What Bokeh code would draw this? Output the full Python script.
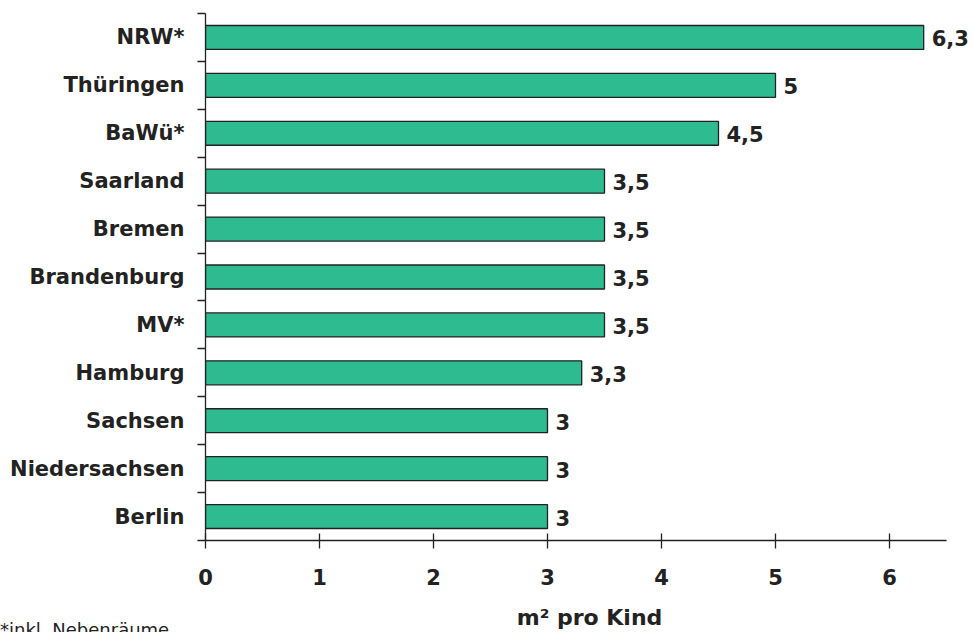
from bokeh.plotting import figure
from bokeh.models import ColumnDataSource, FixedTicker, Range1d, Div
from bokeh.layouts import column
from bokeh.core.properties import value
from bokeh.embed import file_html
from bokeh.resources import INLINE

# Data (top to bottom)
states = ["NRW*", "Thüringen", "BaWü*", "Saarland", "Bremen", "Brandenburg",
          "MV*", "Hamburg", "Sachsen", "Niedersachsen", "Berlin"]
values = [6.3, 5.0, 4.5, 3.5, 3.5, 3.5, 3.5, 3.3, 3.0, 3.0, 3.0]
x_ticks = [0, 1, 2, 3, 4, 5, 6]
x_label = "m² pro Kind"
footnote = "*inkl. Nebenräume"

FONT = "DejaVu Sans"
FS = "21px"
n = len(states)
ypos = [n - 1 - i + 0.5 for i in range(n)]
labels = [("%g" % v).replace(".", ",") for v in values]

src = ColumnDataSource(dict(y=ypos, v=values, lab=labels))

p = figure(width=973, height=632, output_backend="svg", toolbar_location=None,
           x_range=Range1d(0, 768 / 114), y_range=Range1d(0, n),
           min_border_left=205, min_border_right=0, min_border_top=13,
           min_border_bottom=92)
p.outline_line_color = None
p.grid.visible = False
p.background_fill_color = "white"
p.border_fill_color = "white"

p.hbar(y="y", right="v", left=0, height=0.5, source=src,
       fill_color="#2EBB8F", line_color="#222222", line_width=1.3)
p.text(x="v", y="y", text="lab", source=src, x_offset=8, y_offset=1,
       text_baseline="middle", text_align="left",
       text_font=value(FONT), text_font_style="bold", text_font_size=FS,
       text_color="#222222")

# x axis
xa = p.xaxis[0]
xa.bounds = (0, 6.5)
xa.ticker = FixedTicker(ticks=x_ticks)
xa.major_tick_in = 7
xa.major_tick_out = 8
xa.minor_tick_line_color = None
xa.axis_line_color = "#222222"
xa.major_tick_line_color = "#222222"
xa.axis_line_width = 1.3
xa.major_tick_line_width = 1.3
xa.major_label_standoff = 20
xa.major_label_text_font = FONT
xa.major_label_text_font_style = "bold"
xa.major_label_text_font_size = FS
xa.major_label_text_color = "#222222"
xa.axis_label = x_label
xa.axis_label_standoff = 17
xa.axis_label_text_font = FONT
xa.axis_label_text_font_style = "bold"
xa.axis_label_text_font_size = "22px"
xa.axis_label_text_color = "#222222"

# y axis: labels at centers, ticks at boundaries (minor ticks)
ya = p.yaxis[0]
ya.ticker = FixedTicker(ticks=ypos, minor_ticks=list(range(n + 1)))
ya.major_label_overrides = {y: s for y, s in zip(ypos, states)}
ya.major_tick_line_color = None
ya.major_tick_in = 0
ya.major_tick_out = 0
ya.minor_tick_in = 0
ya.minor_tick_out = 8
ya.minor_tick_line_color = "#222222"
ya.minor_tick_line_width = 1.3
ya.axis_line_color = "#222222"
ya.axis_line_width = 1.3
ya.major_label_standoff = 13
ya.major_label_text_font = FONT
ya.major_label_text_font_style = "bold"
ya.major_label_text_font_size = FS
ya.major_label_text_color = "#222222"

note = Div(text=footnote, width=400, height=24, margin=(-12, 0, 0, 0),
           styles={"font-family": FONT, "font-size": "18px", "color": "#222222",
                   "line-height": "20px"})

layout = column(p, note, spacing=0)
open("out.html", "w").write(file_html(layout, INLINE))
